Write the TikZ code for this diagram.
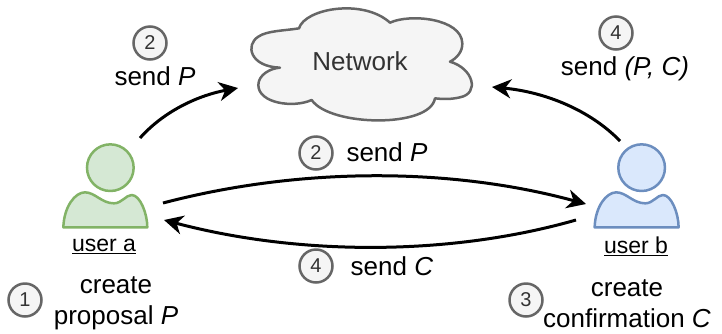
\documentclass[tikz,border=0pt]{standalone}
\usepackage{fontspec}
\setmainfont{Liberation Sans}
\usetikzlibrary{arrows.meta}
\definecolor{greenfill}{HTML}{D5E8D4}
\definecolor{greenline}{HTML}{82B366}
\definecolor{bluefill}{HTML}{DAE8FC}
\definecolor{blueline}{HTML}{6C8EBF}
\definecolor{grayfill}{HTML}{F5F5F5}
\definecolor{grayline}{HTML}{666666}
\definecolor{graytext}{HTML}{333333}
\tikzset{
  label text/.style={inner sep=0pt,align=center,font=\fontsize{26}{31}\selectfont,text=black},
  user text/.style={inner sep=0pt,font=\fontsize{23}{27}\selectfont,text=black},
  badge/.style={circle,draw=grayline,fill=grayfill,line width=2.5pt,minimum size=33pt,inner sep=0pt,text=graytext,font=\fontsize{20}{24}\selectfont},
  flow/.style={draw=black,line width=3pt,-{Stealth[length=19pt,width=19pt,inset=6pt]}},
  person/.style={line width=2.5pt,line join=round}
}
\newcommand{\personshape}[3]{%
  \begin{scope}[shift={(#1,130)},x=0.3333pt,y=-0.3333pt]
    \draw[person,draw=#2,fill=#3] (331,113) circle[radius=70];
    \draw[person,draw=#2,fill=#3] (190,292) .. controls (192,230) and (225,187) .. (255,187)
      .. controls (285,187) and (305,220) .. (342,220)
      .. controls (365,220) and (378,195) .. (395,195)
      .. controls (420,195) and (442,250) .. (442,292) -- cycle;
  \end{scope}}
\begin{document}
\begin{tikzpicture}[x=1pt,y=-1pt]
\useasboundingbox (0,0) rectangle (722,333);
% cloud
\begin{scope}[shift={(230,0)},x=0.3333pt,y=-0.3333pt]
  \draw[line width=2.5pt,draw=grayline,fill=grayfill,line join=round]
    (207,85) .. controls (225,25) and (400,-5) .. (480,68)
    .. controls (540,40) and (695,55) .. (697,130)
    .. controls (698,155) and (680,175) .. (660,185)
    .. controls (730,205) and (750,280) .. (690,292)
    .. controls (665,298) and (640,298) .. (615,295)
    .. controls (600,385) and (300,380) .. (245,300)
    .. controls (190,325) and (85,310) .. (85,255)
    .. controls (85,225) and (120,205) .. (150,203)
    .. controls (60,200) and (45,135) .. (85,110)
    .. controls (110,92) and (165,92) .. (207,85) -- cycle;
\end{scope}
\node[inner sep=0pt,text=graytext,font=\fontsize{26}{31}\selectfont] (net) at (360,61) {Network};
% users
\personshape{0}{greenline}{greenfill}
\personshape{531.3}{blueline}{bluefill}
\node[user text] (ua) at (104,246) {\underline{user a}};
\node[user text] (ub) at (636,246) {\underline{user b}};
% anchors of the connectors
\coordinate (aUp) at (140,138);
\coordinate (netL) at (238,88);
\coordinate (bUp) at (620,141);
\coordinate (netR) at (492,87);
\coordinate (aOut) at (163,203);
\coordinate (bIn) at (586,204);
\coordinate (bOut) at (576,220);
\coordinate (aIn) at (164,220);
\draw[flow] (aUp) .. controls (165,110) and (200,95) .. (netL);
\draw[flow] (bUp) .. controls (590,110) and (545,92) .. (netR);
\draw[flow] (aOut) .. controls (300,167) and (450,167) .. (bIn);
\draw[flow] (bOut) .. controls (450,256) and (300,256) .. (aIn);
% badges
\node[badge] (b2t) at (150,43) {2};
\node[badge] (b4t) at (616,33) {4};
\node[badge] (b2m) at (316,153) {2};
\node[badge] (b4b) at (316,266) {4};
\node[badge] (b1) at (25,300) {1};
\node[badge] (b3) at (526,300) {3};
% labels
\node[label text] (l1) at (155,76) {send \textit{P}};
\node[label text] (l2) at (625,69) {send \textit{(P, C)}};
\node[label text] (l3) at (387,152) {send \textit{P}};
\node[label text] (l4) at (392,266) {send \textit{C}};
\node[label text] (l5) at (116,303) {create\\proposal \textit{P}};
\node[label text] (l6) at (627,304) {create\\confirmation \textit{C}};
\end{tikzpicture}
\end{document}
